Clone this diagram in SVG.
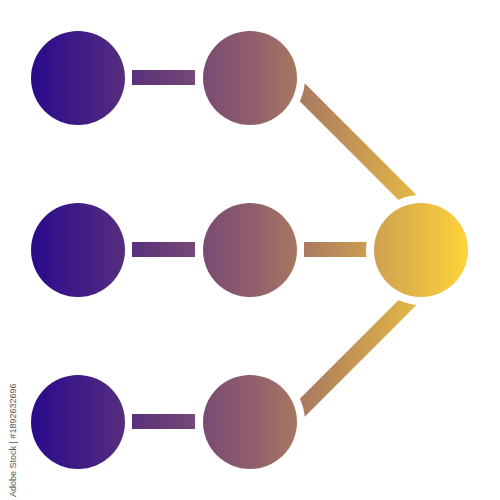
<svg xmlns="http://www.w3.org/2000/svg" width="500" height="500" viewBox="0 0 500 500">
  <defs>
    <linearGradient id="g" gradientUnits="userSpaceOnUse" x1="31" y1="0" x2="469" y2="0">
      <stop offset="0" stop-color="#2a0a8c"/>
      <stop offset="0.5" stop-color="#8f5d6c"/>
      <stop offset="1" stop-color="#ffd43a"/>
    </linearGradient>
  </defs>
  <style>
    .node { fill: url(#g); }
    .gap { fill: #ffffff; }
    .bar { fill: url(#g); }
    .diag { stroke: url(#g); stroke-width: 16; fill: none; }
    .credit { font-family: "Liberation Sans", Arial, sans-serif; font-size: 9px; fill: #555555; }
  </style>
  <rect width="500" height="500" fill="#ffffff"/>
  <g id="connectors">
    <rect class="bar" x="132" y="70" width="63" height="15"/>
    <rect class="bar" x="132" y="242" width="63" height="15"/>
    <rect class="bar" x="132" y="414" width="63" height="15"/>
    <rect class="bar" x="304" y="242" width="63" height="15"/>
    <path class="diag" d="M 280 70 L 440 230"/>
    <path class="diag" d="M 280 430 L 440 270"/>
    <circle class="gap" cx="250" cy="78" r="55"/>
    <circle class="gap" cx="250" cy="422" r="55"/>
    <circle class="gap" cx="421" cy="250" r="55"/>
  </g>
  <g id="n1"><circle class="node" cx="78" cy="78" r="47"/></g>
  <g id="n2"><circle class="node" cx="250" cy="78" r="47"/></g>
  <g id="n3"><circle class="node" cx="78" cy="250" r="47"/></g>
  <g id="n4"><circle class="node" cx="250" cy="250" r="47"/></g>
  <g id="n5"><circle class="node" cx="78" cy="422" r="47"/></g>
  <g id="n6"><circle class="node" cx="250" cy="422" r="47"/></g>
  <g id="n7"><circle class="node" cx="421" cy="250" r="47"/></g>
  <text class="credit" transform="translate(16,497) rotate(-90)">Adobe Stock | #1892632696</text>
</svg>
